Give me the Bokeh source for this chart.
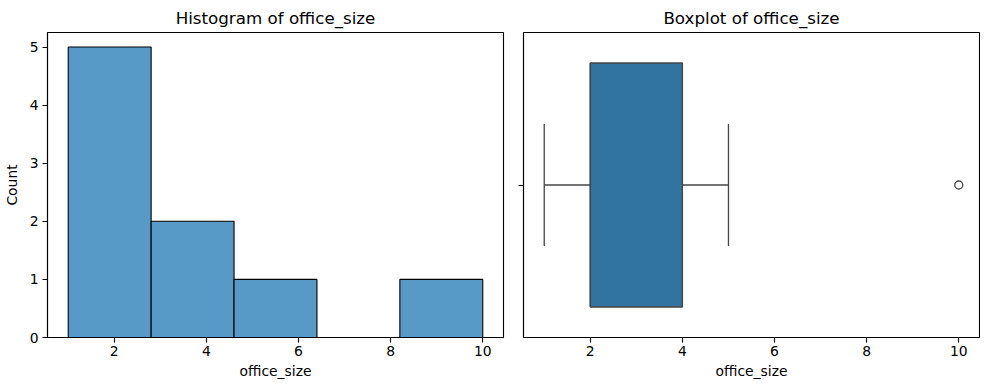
from bokeh.plotting import figure
from bokeh.layouts import row
from bokeh.models import Range1d, FixedTicker, ColumnDataSource
from bokeh.embed import file_html
from bokeh.resources import INLINE

# ---- data ----
bin_edges = [1.0, 2.8, 4.6, 6.4, 8.2, 10.0]
counts = [5, 2, 1, 0, 1]
x_ticks = [2, 4, 6, 8, 10]
y_ticks = [0, 1, 2, 3, 4, 5]

whisker_low = 1
q1 = 2
median = 2
q3 = 4
whisker_high = 5
outliers = [10]

title_left = "Histogram of office_size"
title_right = "Boxplot of office_size"
x_label = "office_size"
y_label = "Count"

FONT = "DejaVu Sans"
TICK_FS = "13.9px"
TITLE_FS = "16.7px"
HIST_COLOR = "#5799c7"
BOX_COLOR = "#3274a1"
LINE_GRAY = "#444444"


def style(p):
    p.title.text_font = FONT
    p.title.text_font_size = TITLE_FS
    p.title.text_font_style = "normal"
    p.title.text_color = "black"
    p.title.align = "center"
    p.outline_line_color = "black"
    p.outline_line_width = 1.1
    p.xgrid.visible = False
    p.ygrid.visible = False
    for ax in (p.xaxis[0], p.yaxis[0]):
        ax.axis_line_color = "black"
        ax.axis_line_width = 1.1
        ax.major_tick_line_color = "black"
        ax.major_tick_line_width = 1.1
        ax.major_tick_out = 5
        ax.major_tick_in = 0
        ax.minor_tick_line_color = None
        ax.major_label_text_font = FONT
        ax.major_label_text_font_size = TICK_FS
        ax.major_label_text_color = "black"
        ax.axis_label_text_font = FONT
        ax.axis_label_text_font_size = TICK_FS
        ax.axis_label_text_font_style = "normal"
        ax.axis_label_text_color = "black"
    p.xaxis[0].ticker = FixedTicker(ticks=x_ticks)
    p.xaxis[0].axis_label = x_label
    p.xaxis[0].major_label_standoff = 3
    p.xaxis[0].axis_label_standoff = 4


# ---- histogram ----
p1 = figure(frame_width=456, frame_height=305, output_backend="svg",
            toolbar_location=None, title=title_left,
            x_range=Range1d(0.55, 10.45), y_range=Range1d(0, 5.25),
            min_border_left=42, min_border_right=10, min_border_top=24,
            min_border_bottom=45)
hist_src = ColumnDataSource(dict(left=bin_edges[:-1], right=bin_edges[1:],
                                 top=counts, bottom=[0] * len(counts)))
p1.quad(left="left", right="right", top="top", bottom="bottom", source=hist_src,
        fill_color=HIST_COLOR, line_color="black", line_width=1.1)
style(p1)
p1.yaxis[0].ticker = FixedTicker(ticks=y_ticks)
p1.yaxis[0].axis_label = y_label
p1.yaxis[0].major_label_standoff = 4
p1.yaxis[0].axis_label_standoff = 7

# ---- boxplot ----
p2 = figure(frame_width=456, frame_height=305, output_backend="svg",
            toolbar_location=None, title=title_right,
            x_range=Range1d(0.55, 10.45), y_range=Range1d(0.5, -0.5),
            min_border_left=10, min_border_right=1, min_border_top=24,
            min_border_bottom=45)
style(p2)
p2.yaxis[0].ticker = FixedTicker(ticks=[0])
p2.yaxis[0].major_label_overrides = {0: ""}
p2.yaxis[0].major_label_text_font_size = "1px"
p2.yaxis[0].major_label_standoff = 0

box_half = 0.4
cap_half = 0.2
# whiskers
p2.segment(x0=[whisker_low, q3], y0=[0, 0], x1=[q1, whisker_high], y1=[0, 0],
           line_color=LINE_GRAY, line_width=1.3)
p2.segment(x0=[whisker_low, whisker_high], y0=[-cap_half, -cap_half],
           x1=[whisker_low, whisker_high], y1=[cap_half, cap_half],
           line_color=LINE_GRAY, line_width=1.3)
# box
p2.quad(left=[q1], right=[q3], bottom=[-box_half], top=[box_half],
        fill_color=BOX_COLOR, line_color=LINE_GRAY, line_width=1.3)
# median
p2.segment(x0=[median], y0=[-box_half], x1=[median], y1=[box_half],
           line_color=LINE_GRAY, line_width=1.3)
# outliers
p2.scatter(x=outliers, y=[0] * len(outliers), size=8, marker="circle",
           fill_color=None, line_color=LINE_GRAY, line_width=1.3)

layout = row(p1, p2)
open("out.html", "w").write(file_html(layout, INLINE))
